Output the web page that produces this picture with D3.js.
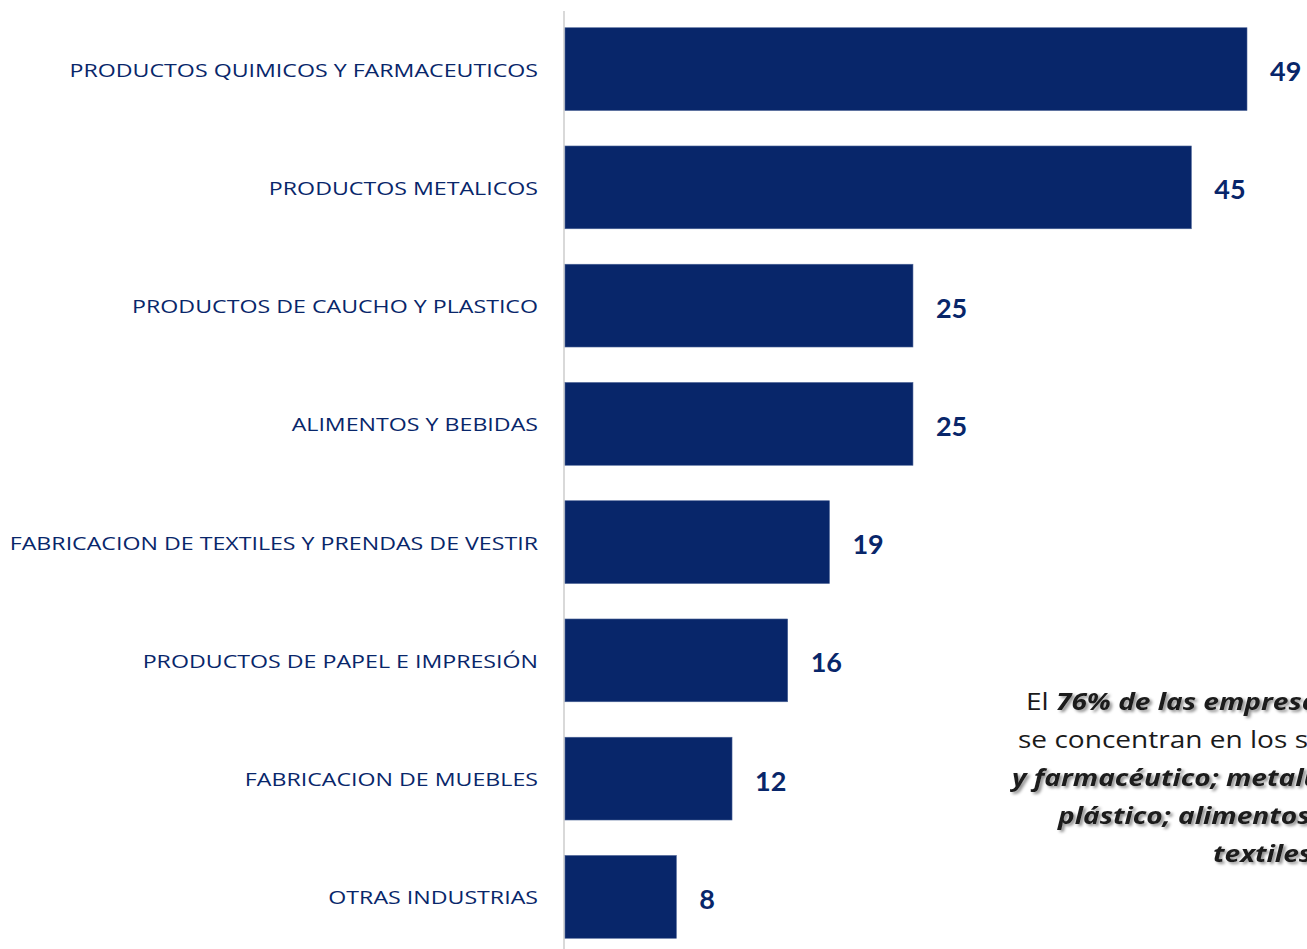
<!DOCTYPE html>
<html>
<head>
<meta charset="utf-8">
<script src="https://cdn.jsdelivr.net/npm/d3@7"></script>
<style>
  html, body { margin: 0; padding: 0; background: #ffffff; overflow: hidden; }
  svg { display: block; }
</style>
</head>
<body>
<svg id="chart" width="1307" height="949"></svg>
<script>
const categories = [
  "PRODUCTOS QUIMICOS Y FARMACEUTICOS",
  "PRODUCTOS METALICOS",
  "PRODUCTOS DE CAUCHO Y PLASTICO",
  "ALIMENTOS Y BEBIDAS",
  "FABRICACION DE TEXTILES Y PRENDAS DE VESTIR",
  "PRODUCTOS DE PAPEL E IMPRESIÓN",
  "FABRICACION DE MUEBLES",
  "OTRAS INDUSTRIAS"
];
const values = [49, 45, 25, 25, 19, 16, 12, 8];

const noteLines = [
  [["El ", false], ["76% de las empresas", true]],
  [["se concentran en los se", false]],
  [["y farmacéutico; metalú", true]],
  [["plástico; alimentos", true]],
  [["textiles", true]]
];
const noteStarts = [1026, 1018, 1012, 1058, 1213];

const navy = "#08266A";
const stretch = 1.22;
const svg = d3.select("#chart");

const defs = svg.append("defs");
const f = defs.append("filter").attr("id", "shadow")
  .attr("x", "-5%").attr("y", "-30%").attr("width", "110%").attr("height", "160%");
f.append("feDropShadow").attr("dx", 2).attr("dy", 2).attr("stdDeviation", 1.5)
  .attr("flood-color", "#000").attr("flood-opacity", 0.45);

const x0 = 565;
const x = d3.scaleLinear().domain([0, 49]).range([x0, 1247]);
const y = d3.scaleBand().domain(categories).range([10, 956]).paddingInner(0.3).paddingOuter(0.15);

// axis line
svg.append("line")
  .attr("x1", x0 - 1).attr("x2", x0 - 1)
  .attr("y1", 11).attr("y2", 949)
  .attr("stroke", "#d9d9d9").attr("stroke-width", 2);

svg.append("g").selectAll("rect")
  .data(categories)
  .join("rect")
  .attr("x", x(0))
  .attr("y", d => y(d))
  .attr("width", (d, i) => x(values[i]) - x(0))
  .attr("height", y.bandwidth())
  .attr("fill", navy)
  .attr("stroke", "#4a6296").attr("stroke-width", 0.6);

// category labels
svg.append("g").selectAll("text")
  .data(categories)
  .join("text")
  .attr("transform", d => `translate(538,${y(d) + y.bandwidth() / 2 + 7.5}) scale(${stretch},1)`)
  .attr("text-anchor", "end")
  .attr("font-family", "'Open Sans', sans-serif")
  .attr("font-size", 19)
  .attr("fill", navy)
  .text(d => d);

// value labels
svg.append("g").selectAll("text")
  .data(categories)
  .join("text")
  .attr("x", (d, i) => x(values[i]) + 23)
  .attr("y", d => y(d) + y.bandwidth() / 2 + 12)
  .attr("font-family", "Lato, 'Open Sans', sans-serif")
  .attr("font-weight", "bold")
  .attr("font-size", 27)
  .attr("fill", navy)
  .text((d, i) => values[i]);

// annotation
noteLines.forEach((line, li) => {
  const t = svg.append("text")
    .attr("transform", `translate(${noteStarts[li]},${710 + li * 38}) scale(${stretch},1)`)
    .attr("font-family", "'Open Sans', sans-serif")
    .attr("font-size", 23)
    .attr("fill", "#1a1a1a");
  line.forEach(seg => {
    const s = t.append("tspan").text(seg[0]);
    if (seg[1]) s.attr("font-weight", "bold").attr("font-style", "italic").attr("filter", "url(#shadow)");
  });
});
</script>
</body>
</html>
